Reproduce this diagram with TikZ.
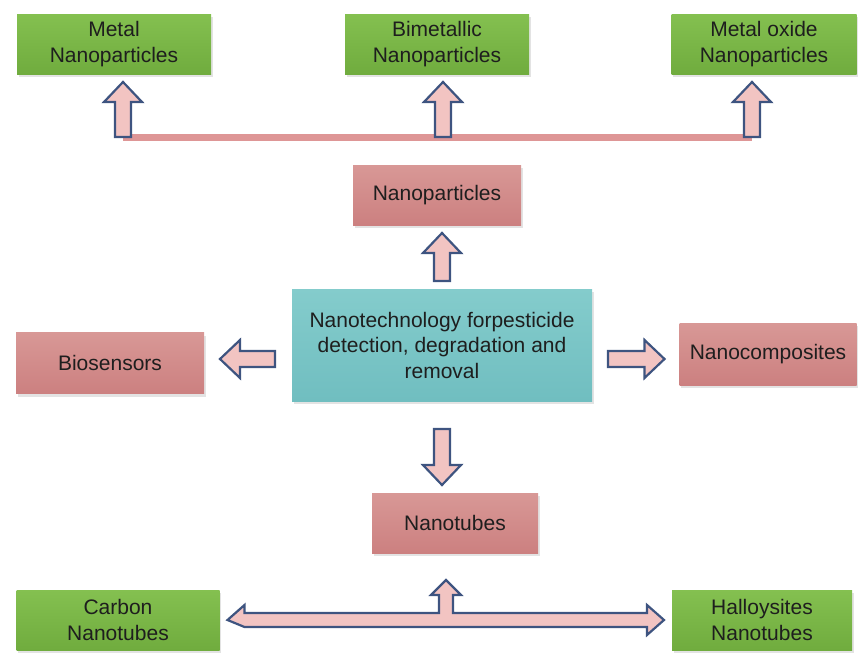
\documentclass[tikz,border=0pt]{standalone}
\usepackage{fontspec}
\setmainfont{Liberation Sans}
\usetikzlibrary{calc, shadows}

\definecolor{greentop}{RGB}{132,192,80}
\definecolor{greenbot}{RGB}{112,172,62}
\definecolor{pinktop}{RGB}{216,152,150}
\definecolor{pinkbot}{RGB}{204,128,128}
\definecolor{tealtop}{RGB}{132,204,204}
\definecolor{tealbot}{RGB}{112,190,192}
\definecolor{arrowblue}{RGB}{62,84,128}
\definecolor{arrowpink}{RGB}{242,196,194}
\definecolor{barpink}{RGB}{222,150,150}
\definecolor{textgray}{RGB}{30,30,30}

% outlined block arrow from #1 to #2
\newcommand{\blockarrow}[2]{%
  \coordinate (ba-s) at (#1);
  \coordinate (ba-t) at (#2);
  \coordinate (ba-h) at ($(ba-t)!20pt!(ba-s)$);
  \filldraw [arrowbody]
    ($(ba-s)!8pt!90:(ba-t)$) -- ($(ba-h)!8pt!90:(ba-t)$) -- ($(ba-h)!19pt!90:(ba-t)$)
    -- (ba-t) -- ($(ba-h)!19pt!-90:(ba-t)$) -- ($(ba-h)!8pt!-90:(ba-t)$)
    -- ($(ba-s)!8pt!-90:(ba-t)$) -- cycle;
}

\begin{document}
\begin{tikzpicture}[
  x=1pt, y=-1pt,
  box/.style={
    % The shape:
    rectangle,
    % The size:
    minimum height=60pt,
    inner sep=0pt,
    % The shadow:
    drop shadow={shadow xshift=1.5pt, shadow yshift=-3pt, opacity=0.22},
    % Font
    font=\fontsize{21}{25.5}\selectfont,
    align=center,
    text=textgray,
    % padding around node
    outer sep=8pt
  },
  greenbox/.style={box, top color=greentop, bottom color=greenbot},
  pinkbox/.style={box, top color=pinktop, bottom color=pinkbot},
  tealbox/.style={box, top color=tealtop, bottom color=tealbot},
  arrowbody/.style={draw=arrowblue, fill=arrowpink, line width=2.2pt, line join=miter},
  barline/.style={draw=barpink, line width=7pt}
  ]

  \useasboundingbox (0,0) rectangle (863,653);

  % top row
  \node (metal) [greenbox, minimum width=194pt] at (114,44) {Metal\\Nanoparticles};
  \node (bimetal) [greenbox, minimum width=184pt] at (437,44) {Bimetallic\\Nanoparticles};
  \node (oxide) [greenbox, minimum width=185pt] at (764,44) {Metal oxide\\Nanoparticles};

  % middle
  \node (nanop) [pinkbox, minimum width=168pt] at (437,195) {Nanoparticles};
  \node (core) [tealbox, minimum width=300pt, minimum height=112pt] at (442,345)
    {Nanotechnology forpesticide\\detection, degradation and\\removal};
  \node (bio) [pinkbox, minimum width=188pt, minimum height=61pt] at (110,363) {Biosensors};
  \node (comp) [pinkbox, minimum width=177pt, minimum height=62pt] at (768,354) {Nanocomposites};
  \node (nanot) [pinkbox, minimum width=166pt] at (455,523) {Nanotubes};

  % bottom row
  \node (carbon) [greenbox, minimum width=203pt] at (118,620) {Carbon\\Nanotubes};
  \node (halloy) [greenbox, minimum width=180pt] at (762,620) {Halloysites\\Nanotubes};

  % bar under the top row
  \coordinate (bar1) at (123,137);
  \coordinate (bar2) at (443,137);
  \coordinate (bar3) at (752,137);
  \draw [barline] (bar1) -- (bar3);

  \blockarrow{bar1}{bar1 |- metal.south}
  \blockarrow{bar2}{bar2 |- bimetal.south}
  \blockarrow{bar3}{bar3 |- oxide.south}

  \blockarrow{core.north}{core.north |- nanop.south}
  \blockarrow{$(core.west)+(-9,14)$}{$(core.west -| bio.east)+(8,14)$}
  \blockarrow{$(core.east)+(8,14)$}{$(core.east -| comp.west)+(-7,14)$}
  \blockarrow{$(core.south)+(0,20)$}{core.south |- nanot.north}

  % double arrow with stub to the nanotubes
  \coordinate (hub) at (446,620);
  \filldraw [arrowbody] (carbon.east) -- ++(17,-15) -- ++(0,8) -- ($(hub)+(-7,-7)$)
    -- ++(0,-18) -- ++(-8,0) -- ($(hub)+(0,-40)$) -- ($(hub)+(15,-25)$) -- ++(-8,0)
    -- ($(hub)+(7,-7)$) -- ($(halloy.west)+(-17,-7)$) -- ++(0,-8) -- (halloy.west)
    -- ++(-17,15) -- ++(0,-8) -- ($(carbon.east)+(17,7)$) -- cycle;

\end{tikzpicture}
\end{document}
